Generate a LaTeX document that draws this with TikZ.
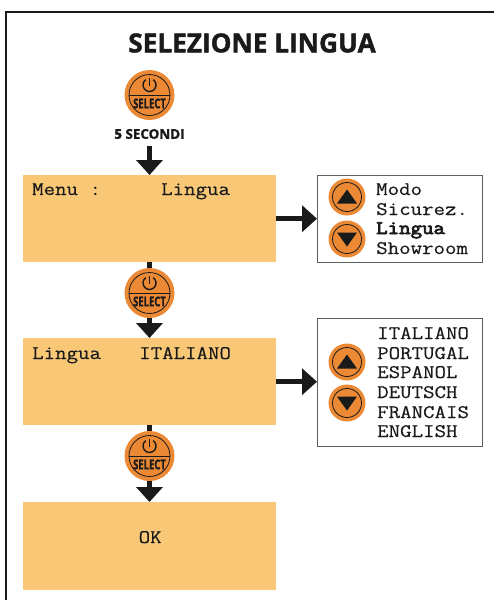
\documentclass[tikz,border=0pt]{standalone}
\usepackage{fontspec}
\setmainfont{Open Sans}
\newfontfamily\heavyfont[FakeBold=1.6]{Open Sans Bold}
\newfontfamily\selfont[FakeBold=1,FakeStretch=.7]{Open Sans Bold}
\newfontfamily\lcdfont[FakeStretch=1.16,FakeBold=.4]{Latin Modern Mono}
\newfontfamily\lcdbold[FakeStretch=1.16,FakeBold=4]{Latin Modern Mono}
\usetikzlibrary{arrows.meta}
\definecolor{panel}{HTML}{F8C877}
\definecolor{btn}{HTML}{EC8935}
\definecolor{ink}{HTML}{1A1A1A}
\tikzset{
  screen/.style={fill=panel,draw=none,minimum width=253pt,anchor=north west,inner sep=0pt},
  popup/.style={draw=ink!70,line width=.8pt,fill=white,anchor=north west,inner sep=0pt},
  flow/.style={ink,line width=5.5pt,-{Triangle[length=15pt,width=26pt]}},
  mono/.style={font=\lcdfont\fontsize{19.2}{19.2}\selectfont,text=ink,inner sep=0pt,anchor=base west},
  monob/.style={font=\lcdbold\fontsize{19.2}{19.2}\selectfont,text=ink,inner sep=0pt,anchor=base west},
}
\newcommand{\selbtn}[2]{%
  \node[circle,fill=btn,minimum size=50pt,inner sep=0pt] (#2) at (#1) {};
  \draw[ink,line width=.8pt] (#2.center) circle (20.5pt);
  \draw[ink,line width=.8pt] ([xshift=-20.5pt]#2.center) -- ([xshift=20.5pt]#2.center);
  \draw[ink,line width=1.4pt] ([yshift=10pt]#2.center) ++(55:6.5pt) arc (55:-235:6.5pt);
  \draw[ink,line width=1.4pt] ([yshift=9pt]#2.center) -- ([yshift=17pt]#2.center);
  \node[font=\selfont\fontsize{13.5}{13.5}\selectfont,text=ink,inner sep=0pt] at ([yshift=-8.5pt]#2.center) {SELECT};
}
\newcommand{\upbtn}[2]{%
  \node[circle,fill=btn,minimum size=37pt,inner sep=0pt] (#2) at (#1) {};
  \draw[ink,line width=.8pt] (#2.center) circle (14.5pt);
  \fill[ink] ([yshift=7.5pt]#2.center) -- ([xshift=-10pt,yshift=-6.5pt]#2.center) -- ([xshift=10pt,yshift=-6.5pt]#2.center) -- cycle;
}
\newcommand{\dnbtn}[2]{%
  \node[circle,fill=btn,minimum size=37pt,inner sep=0pt] (#2) at (#1) {};
  \draw[ink,line width=.8pt] (#2.center) circle (14.5pt);
  \fill[ink] ([yshift=-7.5pt]#2.center) -- ([xshift=-10pt,yshift=6.5pt]#2.center) -- ([xshift=10pt,yshift=6.5pt]#2.center) -- cycle;
}
\begin{document}
\begin{tikzpicture}[x=1pt,y=-1pt]
\useasboundingbox (0,0) rectangle (494,600);
\draw[ink,line width=1.2pt] (6,600) -- (6,12) -- (494,12);
\node[font=\heavyfont\fontsize{26.2}{26.2}\selectfont,text=ink,inner sep=0pt] (title) at (252,43) {SELEZIONE LINGUA};
\node[font=\heavyfont\fontsize{13.4}{13.4}\selectfont,text=ink,inner sep=0pt] (sec) at (149.5,134) {5 SECONDI};
\node[screen,minimum height=87pt] (s1) at (23,175) {};
\node[screen,minimum height=87pt] (s2) at (23,338) {};
\node[screen,minimum height=88pt] (s3) at (23,502) {};
\node[mono] (t1a) at (32,195) {Menu :};
\node[mono] (t1b) at (161,195) {Lingua};
\node[mono] (t2a) at (32,359) {Lingua};
\node[mono] (t2b) at (139,359) {ITALIANO};
\node[mono] (t3) at (138.5,543) {OK};
\coordinate (a0s) at (149.5,146);
\draw[flow] (a0s) -- (a0s |- s1.north);
\draw[flow] (s1.south -| a0s) -- (s2.north -| a0s);
\draw[flow] (s2.south -| a0s) -- (s3.north -| a0s);
\selbtn{149.5,95}{b1}
\selbtn{149.5,293}{b2}
\selbtn{149.5,456}{b3}
\node[popup,minimum width=165pt,minimum height=87pt] (p1) at (317,175) {};
\node[popup,minimum width=165pt,minimum height=128pt] (p2) at (317,318) {};
\draw[flow] (s1.east) -- (s1.east -| p1.west);
\draw[flow] (s2.east) -- (s2.east -| p2.west);
\upbtn{347,197}{u1}
\dnbtn{347,239}{d1}
\upbtn{347,362}{u2}
\dnbtn{347,403}{d2}
\node[mono] at (376,195) {Modo};
\node[mono] at (376,215) {Sicurez.};
\node[monob] at (376,234) {Lingua};
\node[mono] at (376,254) {Showroom};
\node[mono] at (377,339) {ITALIANO};
\node[mono] at (377,359) {PORTUGAL};
\node[mono] at (377,378) {ESPANOL};
\node[mono] at (377,398) {DEUTSCH};
\node[mono] at (377,418) {FRANCAIS};
\node[mono] at (377,437) {ENGLISH};
\end{tikzpicture}
\end{document}
